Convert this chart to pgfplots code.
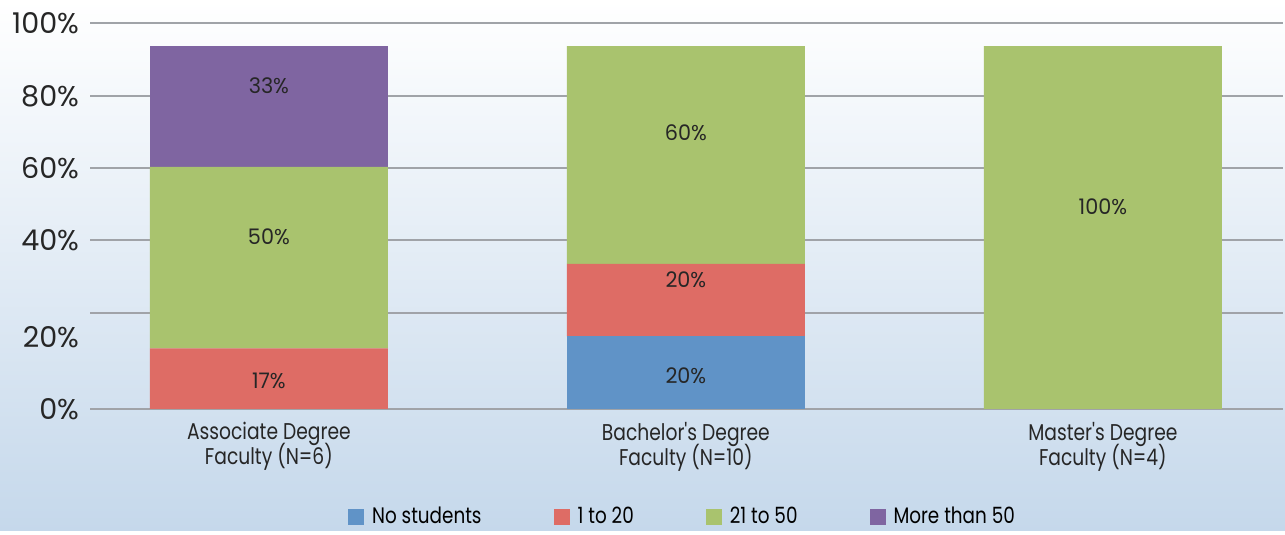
\documentclass[border=0pt]{standalone}
\usepackage{pgfplots}
\pgfplotsset{compat=1.18}
\usepackage{fontspec}
\setmainfont[FakeStretch=0.82,Ligatures=TeXOff]{Poppins}
\newfontfamily\tickfont{Poppins}
\newfontfamily\dlfont[FakeStretch=0.97]{Poppins}
\definecolor{cBlue}{RGB}{96,147,199}
\definecolor{cRed}{RGB}{222,108,101}
\definecolor{cGreen}{RGB}{169,195,110}
\definecolor{cPurple}{RGB}{127,101,161}
\definecolor{cGrid}{RGB}{160,163,168}
\definecolor{cBgBot}{RGB}{197,216,235}
\definecolor{cText}{RGB}{38,38,38}
\tikzset{dl/.style={font=\dlfont\fontsize{10.7}{12}\selectfont, text=cText}}
\begin{document}
\begin{tikzpicture}
\shade[top color=white, bottom color=cBgBot] (0,0) rectangle (642.5pt,265.5pt);
\begin{axis}[
  at={(45pt,61pt)}, anchor=south west,
  scale only axis, width=596.5pt, height=193pt,
  xmin=-0.429, xmax=2.432, ymin=0, ymax=106.34,
  ybar stacked, bar width=119pt,
  axis line style={draw=none},
  xtick={0,1,2},
  xticklabels={Associate Degree\\[-2pt]Faculty (N=6),Bachelor's Degree\\[-2pt]Faculty (N=10),Master's Degree\\[-2pt]Faculty (N=4)},
  xticklabel style={align=center, font=\fontsize{11.4}{12}\selectfont, text=cText, yshift=-3pt},
  major tick length=0pt,
  ytick={0,19.8,46.6,66.4,86.2,106.34},
  yticklabels={0\%,20\%,40\%,60\%,80\%,100\%},
  yticklabel style={font=\tickfont\fontsize{14.3}{16}\selectfont, text=cText, xshift=-2pt},
  extra y ticks={0,26.4,46.6,66.4,86.2,106.34},
  extra y tick labels={},
  extra y tick style={ymajorgrids=true},
  major grid style={cGrid, line width=0.8pt},
  legend columns=4,
  legend style={at={(0.4975,-0.28)}, anchor=center, draw=none, fill=none,
    font=\fontsize{11.2}{12}\selectfont,
    /tikz/every even column/.append style={column sep=34pt}},
  legend image code/.code={\fill[#1,draw=none] (0pt,-4pt) rectangle (8pt,4pt); \path (10pt,0pt);},
]
\addplot[fill=cBlue, draw=none] coordinates {(0,0) (1,20) (2,0)};
\addplot[fill=cRed, draw=none] coordinates {(0,16.7) (1,20) (2,0)};
\addplot[fill=cGreen, draw=none] coordinates {(0,50) (1,60) (2,100)};
\addplot[fill=cPurple, draw=none] coordinates {(0,33.3) (1,0) (2,0)};
\legend{No students,1 to 20,21 to 50,More than 50}
\coordinate (l1) at (axis cs:0,89.0);
\coordinate (l2) at (axis cs:0,47.4);
\coordinate (l3) at (axis cs:0,7.7);
\coordinate (l4) at (axis cs:1,76.0);
\coordinate (l5) at (axis cs:1,35.5);
\coordinate (l6) at (axis cs:1,9.1);
\coordinate (l7) at (axis cs:2,55.6);
\end{axis}
\node[dl] at (l1) {33\%};
\node[dl] at (l2) {50\%};
\node[dl] at (l3) {17\%};
\node[dl] at (l4) {60\%};
\node[dl] at (l5) {20\%};
\node[dl] at (l6) {20\%};
\node[dl] at (l7) {100\%};
\end{tikzpicture}
\end{document}
